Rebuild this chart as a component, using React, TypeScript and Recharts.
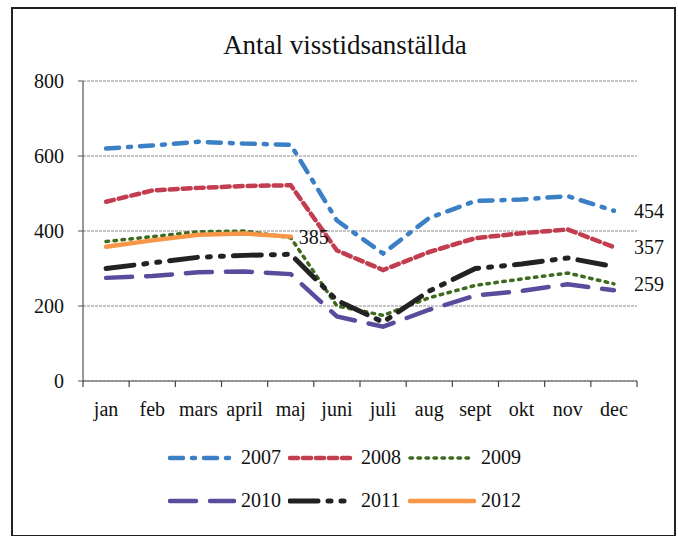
import React from 'react';
import { LineChart, Line, XAxis, YAxis, CartesianGrid, LabelList } from 'recharts';

const months = ['jan', 'feb', 'mars', 'april', 'maj', 'juni', 'juli', 'aug', 'sept', 'okt', 'nov', 'dec'];
const yTicks = [0, 200, 400, 600, 800];

const v2007 = [620, 628, 638, 633, 630, 428, 340, 435, 480, 484, 493, 454];
const v2008 = [478, 508, 515, 520, 522, 348, 296, 344, 381, 394, 404, 357];
const v2009 = [372, 385, 398, 400, 382, 200, 175, 222, 255, 272, 288, 259];
const v2010 = [275, 280, 290, 292, 285, 172, 145, 190, 228, 240, 258, 242];
const v2011 = [300, 315, 330, 335, 338, 215, 157, 240, 300, 312, 328, 305];
const v2012 = [358, 375, 390, 393, 385];

const series = [
  { key: 'y2007', name: '2007', values: v2007, color: '#3b7fc4', dash: '13 9 3 9', width: 4.5, label: 11 },
  { key: 'y2008', name: '2008', values: v2008, color: '#c23d50', dash: '8 5', width: 4.5, label: 11 },
  { key: 'y2009', name: '2009', values: v2009, color: '#3d6a1c', dash: '2.5 5.5', width: 3.5, label: 11 },
  { key: 'y2010', name: '2010', values: v2010, color: '#5a4c9c', dash: '26 14', width: 4.5, label: -1 },
  { key: 'y2011', name: '2011', values: v2011, color: '#222222', dash: '28 10 3 10 3 10', width: 5, label: -1 },
  { key: 'y2012', name: '2012', values: v2012, color: '#f79646', dash: undefined, width: 4.5, label: 4 },
];

const data = months.map((m, i) => {
  const row: Record<string, number | string | null> = { x: i + 0.5, month: m };
  series.forEach((s) => {
    row[s.key] = i < s.values.length ? s.values[i] : null;
  });
  return row;
});

// half steps: integers carry the tick marks, halves carry the month names
const xTicks: number[] = [];
for (let i = 0; i <= 24; i++) xTicks.push(i / 2);

const FONT = '"Liberation Serif", "DejaVu Serif", serif';

const XTick = (props: any) => {
  const { x, y, payload } = props;
  const v = payload.value as number;
  if (Number.isInteger(v)) {
    return <line x1={x} x2={x} y1={y} y2={y + 6} stroke="#444" strokeWidth={1.2} />;
  }
  return (
    <text x={x} y={y + 35} textAnchor="middle" fontFamily={FONT} fontSize={20} fill="#111">
      {months[Math.floor(v)]}
    </text>
  );
};

const makeLabel = (idx: number, dx: number) => (props: any) => {
  const { x, y, value, index } = props;
  if (index !== idx || value == null) return null;
  return (
    <text x={x + dx} y={y} dy="0.35em" textAnchor="start" fontFamily={FONT} fontSize={20} fill="#111">
      {value}
    </text>
  );
};

const LegendItem = ({ s }: { s: typeof series[number] }) => (
  <div style={{ display: 'flex', alignItems: 'center', width: 120 }}>
    <svg width={68} height={10} style={{ display: 'block' }}>
      <line x1={2} x2={66} y1={5} y2={5} stroke={s.color} strokeWidth={s.width}
        strokeDasharray={s.dash} strokeLinecap="round" />
    </svg>
    <span style={{ marginLeft: 5, fontFamily: FONT, fontSize: 20, color: '#111' }}>{s.name}</span>
  </div>
);

export default function App() {
  return (
    <div style={{ position: 'absolute', left: 0, top: 0, width: 678, height: 536, background: '#fff' }}>
      <div style={{ position: 'absolute', left: 11, top: 7, width: 661, height: 526, border: '2px solid #222' }} />
      <div style={{ position: 'absolute', left: 0, width: 690, top: 30, textAlign: 'center', fontFamily: FONT, fontSize: 27, color: '#111' }}>
        Antal visstidsanställda
      </div>
      <div style={{ position: 'absolute', left: 0, top: 0 }}>
        <LineChart width={678} height={536} data={data} margin={{ top: 81, right: 41, left: 0, bottom: 0 }}>
          <CartesianGrid vertical={false} stroke="#8a8a8a" strokeDasharray="3 1" />
          <XAxis dataKey="x" type="number" domain={[0, 12]} ticks={xTicks} interval={0}
            tick={<XTick />} tickLine={false} tickSize={0} tickMargin={0} height={155}
            axisLine={{ stroke: '#555' }} allowDecimals />
          <YAxis domain={[0, 800]} ticks={yTicks} width={83} tickSize={5} tickMargin={14}
            axisLine={{ stroke: '#333' }} tickLine={{ stroke: '#555' }}
            tick={{ fontFamily: FONT, fontSize: 20, fill: '#111' }} />
          {series.map((s) => (
            <Line key={s.key} dataKey={s.key} stroke={s.color} strokeWidth={s.width}
              strokeDasharray={s.dash} strokeLinecap="round" dot={false}
              isAnimationActive={false} connectNulls={false}>
              {s.label >= 0 && (
                <LabelList dataKey={s.key} content={makeLabel(s.label, s.label === 4 ? 8 : 20)} />
              )}
            </Line>
          ))}
        </LineChart>
      </div>
      <div style={{ position: 'absolute', left: 168, top: 446, display: 'flex' }}>
        {series.slice(0, 3).map((s) => <LegendItem key={s.key} s={s} />)}
      </div>
      <div style={{ position: 'absolute', left: 168, top: 489, display: 'flex' }}>
        {series.slice(3).map((s) => <LegendItem key={s.key} s={s} />)}
      </div>
    </div>
  );
}
